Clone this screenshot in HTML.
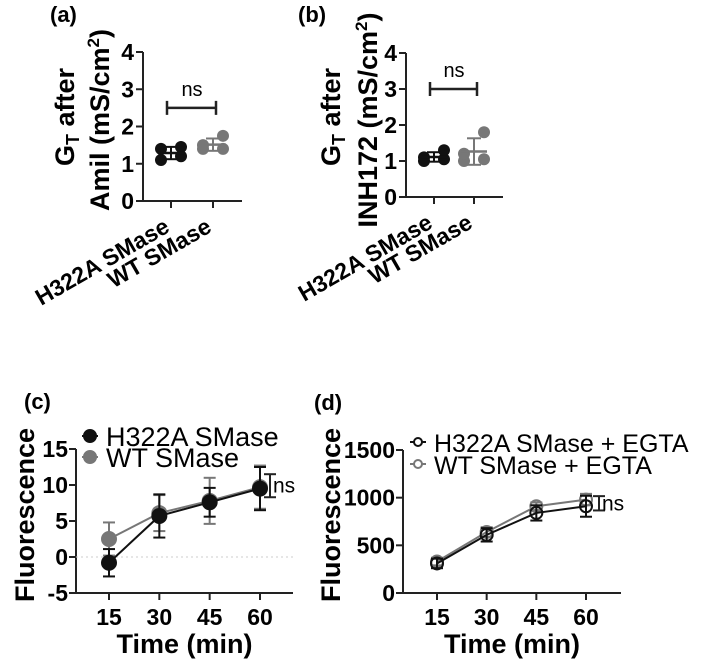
<!DOCTYPE html>
<html><head><meta charset="utf-8"><style>
body{margin:0;background:#fff}
svg{display:block;font-family:"Liberation Sans",Arial,sans-serif}
.tk{font-weight:bold;font-size:23px}
.ttl{font-weight:bold;font-size:27px}
.pl{font-weight:bold;font-size:22px}
</style></head><body>
<svg id="s" width="709" height="660"></svg>
<script>
const ns="http://www.w3.org/2000/svg";
const svg=document.getElementById('s');
// ---- data ----
const catLabels=["H322A SMase","WT SMase"];
const aH322A=[1.1,1.2,1.4,1.45];
const aWT=[1.4,1.4,1.5,1.75];
const bH322A=[1.0,1.05,1.1,1.3];
const bWT=[1.0,1.05,1.2,1.8];
const abTicks=[0,1,2,3,4];
const times=[15,30,45,60];
const cH322A=[-0.8,5.7,7.6,9.5];
const cH322Aerr=[1.9,3.0,2.0,3.0];
const cWT=[2.5,6.1,7.8,9.7];
const cWTerr=[2.3,2.5,3.2,3.0];
const cTicks=[-5,0,5,10,15];
const dH322A=[310,610,840,910];
const dH322Aerr=[50,70,80,110];
const dWT=[330,640,910,980];
const dWTerr=[40,50,40,60];
const dTicks=[0,500,1000,1500];

function el(tag,attrs,parent,text){const e=document.createElementNS(ns,tag);for(const k in attrs)e.setAttribute(k,attrs[k]);if(text!==undefined)e.textContent=text;(parent||svg).appendChild(e);return e;}
function line(x1,y1,x2,y2,c,w,p,name){const e=el('line',{x1,y1,x2,y2,stroke:c,'stroke-width':w||2},p);

return e;}
function txt(x,y,s,cls,anchor,p,extra,name){const e=el('text',Object.assign({x,y,class:cls,'text-anchor':anchor||'middle'},extra||{}),p,s);

return e;}
const mean=a=>a.reduce((s,v)=>s+v,0)/a.length;
const sd=a=>{const m=mean(a);return Math.sqrt(a.reduce((s,v)=>s+(v-m)*(v-m),0)/(a.length-1));};

function scatterPanel(o){
  const g=el('g',{});
  
  
  const y=v=>o.y0+(o.y4-o.y0)*v/4;
  line(o.ax,o.y4,o.ax,o.y0,'#222',2,g,'y-axis');
  line(o.ax,o.y0,o.axEnd,o.y0,'#222',2,g,'x-axis');
  abTicks.forEach(t=>{line(o.ax-7,y(t),o.ax,y(t),'#222',2,g,'y-tick');txt(o.ax-9,y(t)+8,String(t),'tk','end',g,null,'y-tick-label');});
  o.cx.forEach((cx,i)=>{line(cx,o.y0,cx,o.y0+7,'#222',2,g,'x-tick');
    const t=txt(cx,o.y0+30,catLabels[i],'tk','end',g,{transform:`rotate(-30 ${cx} ${o.y0+30})`},'x-category-label');t.setAttribute('font-size','27');});
  [o.d1,o.d2].forEach((d,i)=>{const col=i?'#777':'#111';const cx=o.cx[i];
    const offs=[-10,10,-10,10];
    d.forEach((v,j)=>{const c=el('circle',{cx:cx+offs[j],cy:y(v),r:6,fill:col},g);
      
      });
    const m=mean(d),s=sd(d);
    line(cx-13,y(m),cx+13,y(m),col,2.5,g,'mean-line');
    line(cx,y(m-s),cx,y(m+s),col,2,g,'sd-bar');
    line(cx-7,y(m-s),cx+7,y(m-s),col,2,g,'sd-cap');
    line(cx-7,y(m+s),cx+7,y(m+s),col,2,g,'sd-cap');
  });
  const by=y(o.nsV);
  line(o.cx[0]-4,by,o.cx[1]+3,by,'#222',2.5,g,'significance-bar');
  line(o.cx[0]-4,by-7,o.cx[0]-4,by+7,'#222',2.5,g,'significance-cap');
  line(o.cx[1]+3,by-7,o.cx[1]+3,by+7,'#222',2.5,g,'significance-cap');
  txt((o.cx[0]+o.cx[1])/2,by-12,'ns','','middle',g,{'font-size':'20'},'ns-label');
  txt(o.px,22,o.pl,'pl','start',g,null,'panel-label');
  const t1=el('text',{transform:`translate(${o.t1x},117) rotate(-90)`,class:'ttl','text-anchor':'middle'},g);
  
  
  t1.innerHTML='G<tspan font-size="18" dy="5">T</tspan><tspan dy="-5"> after</tspan>';
  const t2=el('text',{transform:`translate(${o.t2x},${o.t2y}) rotate(-90)`,class:'ttl','text-anchor':'middle'},g);
  
  
  t2.innerHTML=o.t2+' (mS/cm<tspan font-size="17" dy="-10">2</tspan><tspan dy="10">)</tspan>';
}
scatterPanel({name:'panel-a',ax:143,axEnd:242,y0:201,y4:52,cx:[171,213],d1:aH322A,d2:aWT,nsV:2.5,px:50,pl:'(a)',t1x:74,t2x:109,t2y:120,t2:'Amil'});
scatterPanel({name:'panel-b',ax:406,axEnd:503,y0:197,y4:53,cx:[434,474],d1:bH322A,d2:bWT,nsV:3,px:298,pl:'(b)',t1x:340,t2x:377,t2y:120,t2:'INH172'});

function linePanel(o){
  const g=el('g',{});
  
  
  const y=v=>o.yb+(o.yt-o.yb)*(v-o.vmin)/(o.vmax-o.vmin);
  const x=t=>o.x15+(o.x60-o.x15)*(t-15)/45;
  line(o.ax,o.yt,o.ax,o.yb,'#222',2,g,'y-axis');
  line(o.ax,o.yb,o.axEnd,o.yb,'#222',2,g,'x-axis');
  if(o.zero){const z=line(o.ax,y(0),o.axEnd,y(0),'#ccc',1,g,'zero-line');z.setAttribute('stroke-dasharray','2 3');}
  o.ticks.forEach(t=>{line(o.ax-7,y(t),o.ax,y(t),'#222',2,g,'y-tick');txt(o.ax-8,y(t)+8,String(t),'tk','end',g,null,'y-tick-label');});
  times.forEach(t=>{line(x(t),o.yb,x(t),o.yb+7,'#222',2,g,'x-tick');txt(x(t),o.yb+32,String(t),'tk','middle',g,null,'x-tick-label');});
  txt((o.ax+o.axEnd)/2,o.yb+60,'Time (min)','ttl','middle',g,null,'x-axis-title');
  const yt=el('text',{transform:`translate(${o.tx},515) rotate(-90)`,class:'ttl','text-anchor':'middle'},g,'Fluorescence');
  
  
  txt(o.px,o.yt-40,o.pl,'pl','start',g,null,'panel-label');
  const series=[[o.s2,o.e2,'#777'],[o.s1,o.e1,'#111']];
  series.forEach(([s,e,col])=>{
    const p=el('polyline',{points:s.map((v,i)=>x(times[i])+','+y(v)).join(' '),fill:'none',stroke:col,'stroke-width':2},g);
    
    
    s.forEach((v,i)=>{const cx=x(times[i]);
      line(cx,y(v-e[i]),cx,y(v+e[i]),col,2,g,'error-bar');
      line(cx-6,y(v-e[i]),cx+6,y(v-e[i]),col,2,g,'error-cap');
      line(cx-6,y(v+e[i]),cx+6,y(v+e[i]),col,2,g,'error-cap');
      const c=el('circle',{cx,cy:y(v),r:o.open?6:7,fill:o.open?'none':col,stroke:col,'stroke-width':2},g);
      
      });
  });
  const bx=x(60)+o.bdx, y1=y(o.s1[3]-o.e1[3]*0.4), y2=y(o.s2[3]+o.e2[3]*0.6);
  line(bx,y1,bx,y2,'#222',2,g,'ns-bracket');
  line(bx-6,y1,bx+6,y1,'#222',2,g,'ns-cap');line(bx-6,y2,bx+6,y2,'#222',2,g,'ns-cap');
  txt(bx+3,(y1+y2)/2+7,'ns','','start',g,{'font-size':'21'},'ns-label');
  o.leg.forEach((L,i)=>{const ly=o.ly+i*o.lsp, col=i?'#777':'#111';
    line(o.lx,ly,o.lx+16,ly,col,2,g,'legend-line');
    const c=el('circle',{cx:o.lx+8,cy:ly,r:o.open?4:6,fill:o.open?'#fff':col,stroke:col,'stroke-width':2},g);
    
    
    txt(o.lx+24,ly+10,L,'','start',g,{'font-size':o.lfs},'legend-entry');});
}
linePanel({name:'panel-c',ax:76,axEnd:293,yt:449,yb:593,vmin:-5,vmax:15,ticks:cTicks,x15:109,x60:260,zero:true,tx:34,bdx:10,
  s1:cH322A,e1:cH322Aerr,s2:cWT,e2:cWTerr,px:24,pl:'(c)',lx:82,ly:436,lsp:21,lfs:27,leg:['H322A SMase','WT SMase'],open:false});
linePanel({name:'panel-d',ax:403,axEnd:621,yt:450,yb:593,vmin:0,vmax:1500,ticks:dTicks,x15:437,x60:586,tx:340,bdx:13,
  s1:dH322A,e1:dH322Aerr,s2:dWT,e2:dWTerr,px:314,pl:'(d)',lx:410,ly:442,lsp:22,lfs:25,leg:['H322A SMase + EGTA','WT SMase + EGTA'],open:true});
</script>
</body></html>
